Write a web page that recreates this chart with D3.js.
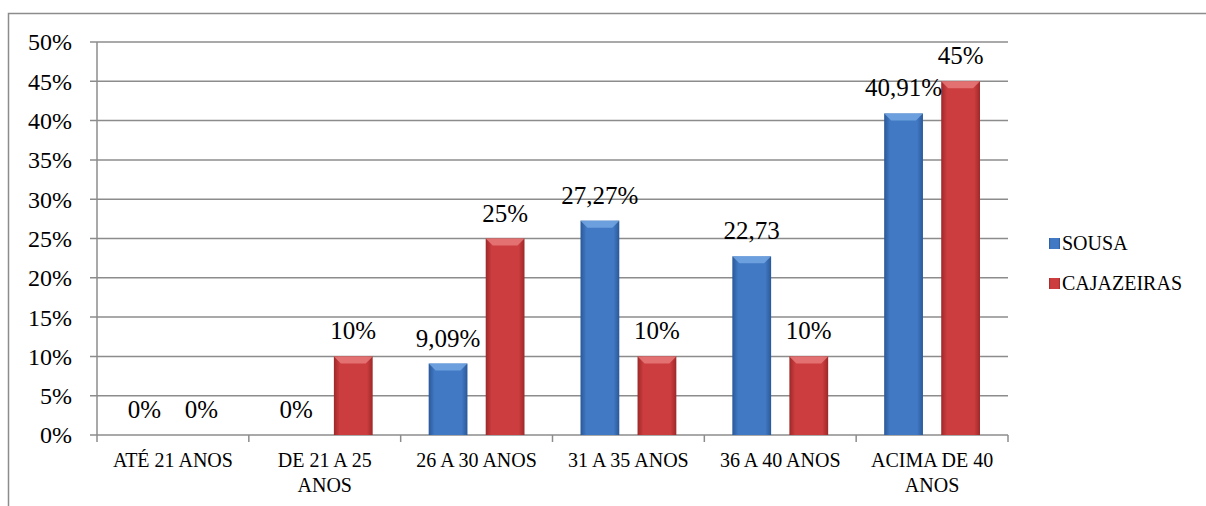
<!DOCTYPE html>
<html lang="pt">
<head>
    <meta charset="UTF-8" />
    <title>Faixa etária</title>
    <script src="https://d3js.org/d3.v7.min.js"></script>
    <style>
        body { margin: 0; background: #fff; }
        svg text { font-family: "Liberation Serif", "Times New Roman", "DejaVu Serif", serif; fill: #000; }
    </style>
</head>
<body>
<div id="chart"></div>
<script>
    // data
    var categories = ["ATÉ 21 ANOS", "DE 21 A 25|ANOS", "26 A 30 ANOS", "31 A 35 ANOS", "36 A 40 ANOS", "ACIMA DE 40|ANOS"];
    var seriesNames = ["SOUSA", "CAJAZEIRAS"];
    var sousa = [0, 0, 9.09, 27.27, 22.73, 40.91];
    var cajazeiras = [0, 10, 25, 10, 10, 45];
    var sousaLabels = ["0%", "0%", "9,09%", "27,27%", "22,73", "40,91%"];
    var cajazeirasLabels = ["0%", "10%", "25%", "10%", "10%", "45%"];
    var yTicks = [0, 5, 10, 15, 20, 25, 30, 35, 40, 45, 50];

    var w = 1206, h = 506;
    var plotLeft = 97, plotRight = 1008, plotTop = 42, plotBottom = 435;

    var svg = d3.select("#chart").append("svg")
        .attr("width", w)
        .attr("height", h);

    // gradients for the bevelled bars
    var defs = svg.append("defs");
    var palette = [
        { id: "gBlue", edge: "#2a5898", mid: "#4179c4", hi: "#74a6e2" },
        { id: "gRed", edge: "#9e2828", mid: "#cc3d3f", hi: "#e67a7a" }
    ];
    palette.forEach(function(p) {
        var g = defs.append("linearGradient").attr("id", p.id)
            .attr("x1", "0%").attr("x2", "100%").attr("y1", "0%").attr("y2", "0%");
        g.append("stop").attr("offset", "0%").attr("stop-color", p.edge);
        g.append("stop").attr("offset", "15%").attr("stop-color", p.mid);
        g.append("stop").attr("offset", "85%").attr("stop-color", p.mid);
        g.append("stop").attr("offset", "100%").attr("stop-color", p.edge);
    });

    // outer frame
    svg.append("rect")
        .attr("x", 8.5).attr("y", 13.5)
        .attr("width", 1210).attr("height", 510)
        .attr("fill", "none").attr("stroke", "#8c8c8c").attr("stroke-width", 1.5);

    var x0 = d3.scaleBand().domain(d3.range(categories.length)).range([plotLeft, plotRight]).padding(0);
    var x1 = d3.scaleBand().domain(seriesNames).range([28, x0.bandwidth() - 28]).paddingInner(0.32);
    var y = d3.scaleLinear().domain([0, 50]).range([plotBottom, plotTop]);

    // gridlines + y axis
    svg.append("g").selectAll("line").data(yTicks).enter().append("line")
        .attr("x1", plotLeft - 7).attr("x2", plotRight)
        .attr("y1", function(d) { return y(d); }).attr("y2", function(d) { return y(d); })
        .attr("stroke", "#8c8c8c").attr("stroke-width", 1.5);

    svg.append("line")
        .attr("x1", plotLeft).attr("x2", plotLeft).attr("y1", plotTop).attr("y2", plotBottom)
        .attr("stroke", "#8c8c8c").attr("stroke-width", 1.5);

    svg.append("g").selectAll("text").data(yTicks).enter().append("text")
        .attr("x", plotLeft - 25)
        .attr("y", function(d) { return y(d); })
        .attr("dy", "0.35em")
        .attr("text-anchor", "end")
        .style("font-size", "24px")
        .text(function(d) { return d + "%"; });

    // x axis ticks at category boundaries
    var bounds = d3.range(categories.length + 1);
    svg.append("g").selectAll("line").data(bounds).enter().append("line")
        .attr("x1", function(i) { return plotLeft + i * x0.bandwidth(); })
        .attr("x2", function(i) { return plotLeft + i * x0.bandwidth(); })
        .attr("y1", plotBottom).attr("y2", plotBottom + 7)
        .attr("stroke", "#8c8c8c").attr("stroke-width", 1.5);

    svg.append("g").selectAll("text").data(categories).enter().append("text")
        .attr("x", function(d, i) { return x0(i) + x0.bandwidth() / 2; })
        .attr("y", plotBottom + 32)
        .attr("text-anchor", "middle")
        .style("font-size", "20px")
        .each(function(d) {
            var t = d3.select(this);
            d.split("|").forEach(function(line, k) {
                t.append("tspan")
                    .attr("x", t.attr("x"))
                    .attr("dy", k === 0 ? 0 : 25)
                    .text(line);
            });
        });

    // bars
    var rows = categories.map(function(c, i) {
        return [
            { s: "SOUSA", v: sousa[i], label: sousaLabels[i], fill: "url(#gBlue)", hi: palette[0].hi },
            { s: "CAJAZEIRAS", v: cajazeiras[i], label: cajazeirasLabels[i], fill: "url(#gRed)", hi: palette[1].hi }
        ];
    });

    var groups = svg.append("g").selectAll("g").data(rows).enter().append("g")
        .attr("transform", function(d, i) { return "translate(" + x0(i) + ",0)"; });

    groups.selectAll("rect").data(function(d) { return d.filter(function(e) { return e.v > 0; }); })
        .enter().append("rect")
        .attr("x", function(d) { return x1(d.s); })
        .attr("y", function(d) { return y(d.v); })
        .attr("width", x1.bandwidth())
        .attr("height", function(d) { return y(0) - y(d.v); })
        .attr("fill", function(d) { return d.fill; });

    // light bevel on top of each bar
    groups.selectAll("polygon").data(function(d) { return d.filter(function(e) { return e.v > 0; }); })
        .enter().append("polygon")
        .attr("points", function(d) {
            var a = x1(d.s), b = a + x1.bandwidth(), t = y(d.v), k = 7;
            return [[a, t], [b, t], [b - k, t + k], [a + k, t + k]].join(" ");
        })
        .attr("fill", function(d) { return d.hi; })
        .attr("opacity", 0.85);

    groups.selectAll("text").data(function(d) { return d; })
        .enter().append("text")
        .attr("x", function(d) { return x1(d.s) + x1.bandwidth() / 2; })
        .attr("y", function(d) { return y(d.v) - 17; })
        .attr("text-anchor", "middle")
        .style("font-size", "25px")
        .text(function(d) { return d.label; });

    // legend
    var legend = svg.append("g").selectAll("g").data(seriesNames).enter().append("g")
        .attr("transform", function(d, i) { return "translate(1049," + (243 + i * 40) + ")"; });

    legend.append("rect")
        .attr("x", 0).attr("y", -5)
        .attr("width", 11).attr("height", 11)
        .attr("fill", function(d, i) { return i === 0 ? "url(#gBlue)" : "url(#gRed)"; });

    legend.append("text")
        .attr("x", 13).attr("dy", "0.35em")
        .style("font-size", "20px")
        .text(function(d) { return d; });
</script>
</body>
</html>
